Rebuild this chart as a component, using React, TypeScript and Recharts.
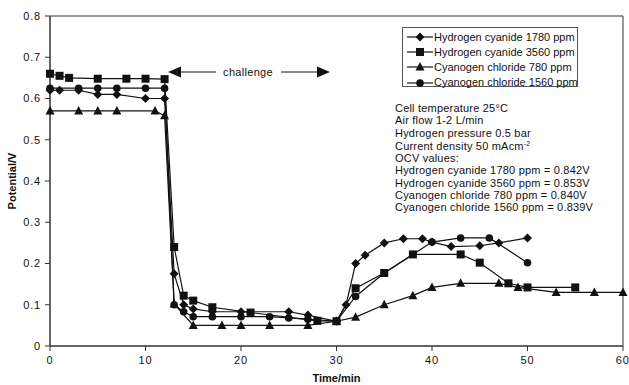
import React from "react";
import { LineChart, Line, XAxis, YAxis, ReferenceArea } from "recharts";

// time (min) and cell potential (V) for each poison run
const hcn1780Time = [0, 1, 3, 5, 7, 10, 12, 13, 14, 15, 17, 20, 25, 27, 30, 31, 32, 33, 35, 37, 39, 40, 42, 45, 47, 50];
const hcn1780Volts = [0.62, 0.62, 0.62, 0.61, 0.61, 0.6, 0.6, 0.175, 0.1, 0.09, 0.083, 0.083, 0.083, 0.075, 0.06, 0.1, 0.2, 0.22, 0.25, 0.26, 0.26, 0.252, 0.241, 0.243, 0.25, 0.262];

const hcn3560Time = [0, 1, 2, 5, 8, 10, 12, 13, 14, 15, 17, 21, 28, 30, 32, 35, 38, 43, 45, 48, 50, 55];
const hcn3560Volts = [0.66, 0.655, 0.65, 0.648, 0.648, 0.648, 0.647, 0.24, 0.122, 0.11, 0.094, 0.081, 0.061, 0.06, 0.14, 0.177, 0.222, 0.222, 0.202, 0.152, 0.142, 0.142];

const cncl780Time = [0, 3, 5, 7, 11, 12, 13, 15, 18, 20, 23, 27, 30, 32, 35, 38, 40, 43, 47, 49, 53, 57, 60];
const cncl780Volts = [0.57, 0.57, 0.57, 0.57, 0.57, 0.558, 0.102, 0.05, 0.05, 0.05, 0.05, 0.05, 0.06, 0.07, 0.1, 0.122, 0.142, 0.152, 0.152, 0.142, 0.13, 0.13, 0.13];

const cncl1560Time = [0, 3, 5, 7, 10, 12, 13, 14, 15, 17, 20, 23, 25, 27, 30, 32, 35, 40, 43, 46, 50];
const cncl1560Volts = [0.625, 0.625, 0.625, 0.625, 0.625, 0.625, 0.1, 0.083, 0.071, 0.071, 0.071, 0.071, 0.068, 0.065, 0.06, 0.12, 0.177, 0.252, 0.262, 0.262, 0.202];

const xTicks = [0, 10, 20, 30, 40, 50, 60];
const yTicks = [0, 0.1, 0.2, 0.3, 0.4, 0.5, 0.6, 0.7, 0.8];

const legendNames = [
  "Hydrogen cyanide 1780 ppm",
  "Hydrogen cyanide 3560 ppm",
  "Cyanogen chloride 780 ppm",
  "Cyanogen chloride 1560 ppm",
];
const markerKinds = ["diamond", "square", "triangle", "circle"];

const ocvValues = ["0.842V", "0.853V", "0.840V", "0.839V"];

const FONT = '"Liberation Sans", Arial, Helvetica, sans-serif';
const INK = "#111";

const toPoints = (t: number[], v: number[]) => t.map((time, i) => ({ time, v: v[i] }));

function Marker({ kind, cx, cy }: { kind: string; cx?: number; cy?: number }) {
  if (cx == null || cy == null) return null;
  if (kind === "diamond")
    return <polygon points={`${cx},${cy - 4.5} ${cx + 4.5},${cy} ${cx},${cy + 4.5} ${cx - 4.5},${cy}`} fill={INK} />;
  if (kind === "square") return <rect x={cx - 4} y={cy - 4} width={8} height={8} fill={INK} />;
  if (kind === "triangle")
    return <polygon points={`${cx},${cy - 5} ${cx + 4.5},${cy + 3.5} ${cx - 4.5},${cy + 3.5}`} fill={INK} />;
  return <circle cx={cx} cy={cy} r={3.8} fill={INK} />;
}

const series = [
  { data: toPoints(hcn1780Time, hcn1780Volts) },
  { data: toPoints(hcn3560Time, hcn3560Volts) },
  { data: toPoints(cncl780Time, cncl780Volts) },
  { data: toPoints(cncl1560Time, cncl1560Volts) },
];

export default function App() {
  const textStyle: React.CSSProperties = {
    fontFamily: FONT,
    fontSize: 11,
    color: INK,
    lineHeight: "12.3px",
    letterSpacing: 0.2,
    whiteSpace: "nowrap",
  };
  return (
    <div style={{ position: "absolute", left: 0, top: 0, width: 629, height: 385, background: "#fff" }}>
      <LineChart width={629} height={385} margin={{ top: 16, right: 6, bottom: 0, left: 0 }}>
        <ReferenceArea x1={0} x2={60} y1={0} y2={0.8} fill="none" stroke="#333" strokeWidth={1} />
        <XAxis
          dataKey="time"
          type="number"
          domain={[0, 60]}
          ticks={xTicks}
          height={39}
          stroke="#333"
          tickSize={5}
          tickMargin={5}
          tick={{ fontSize: 11, fontFamily: FONT, fill: INK, letterSpacing: 0.8 }}
          label={{ value: "Time/min", position: "insideBottom", offset: 3, fontSize: 11, fontWeight: "bold", fontFamily: FONT, fill: INK }}
        />
        <YAxis
          type="number"
          domain={[0, 0.8]}
          ticks={yTicks}
          width={50}
          stroke="#333"
          tickSize={5}
          tickMargin={4}
          tickFormatter={(v) => (v === 0 ? "0" : v.toFixed(1))}
          tick={{ fontSize: 11, fontFamily: FONT, fill: INK, letterSpacing: 0.8 }}
          label={{ value: "Potential/V", angle: -90, position: "center", dx: -13, fontSize: 11, fontWeight: "bold", fontFamily: FONT, fill: INK }}
        />
        {series.map((s, i) => (
          <Line
            key={legendNames[i]}
            data={s.data}
            dataKey="v"
            name={legendNames[i]}
            stroke={INK}
            strokeWidth={1.2}
            isAnimationActive={false}
            dot={(p: any) => <Marker key={`${markerKinds[i]}-${p.index}`} kind={markerKinds[i]} cx={p.cx} cy={p.cy} />}
            activeDot={false}
          />
        ))}
      </LineChart>

      {/* challenge arrow */}
      <svg width={629} height={385} style={{ position: "absolute", left: 0, top: 0, pointerEvents: "none" }}>
        <polygon points="168,72 181,66.5 181,77.5" fill={INK} />
        <line x1={181} y1={72} x2={216} y2={72} stroke={INK} strokeWidth={1} />
        <text x={248} y={76} textAnchor="middle" fontFamily={FONT} fontSize={11} letterSpacing={0.3} fill={INK}>
          challenge
        </text>
        <line x1={281} y1={72} x2={317} y2={72} stroke={INK} strokeWidth={1} />
        <polygon points="330,72 317,66.5 317,77.5" fill={INK} />
      </svg>

      {/* legend */}
      <div
        style={{
          position: "absolute",
          left: 402,
          top: 27,
          width: 176,
          height: 60,
          border: "1px solid #555",
          boxSizing: "border-box",
          background: "#fff",
          paddingTop: 1,
        }}
      >
        {legendNames.map((name, i) => (
          <div key={name} style={{ display: "flex", alignItems: "center", height: 15.3, ...textStyle, letterSpacing: 0 }}>
            <svg width={28} height={12} style={{ marginLeft: 3, flex: "none" }}>
              <line x1={1} y1={6} x2={27} y2={6} stroke={INK} strokeWidth={1.2} />
              <Marker kind={markerKinds[i]} cx={14} cy={6} />
            </svg>
            <span>{name}</span>
          </div>
        ))}
      </div>

      {/* test conditions */}
      <div style={{ position: "absolute", left: 395, top: 102, ...textStyle }}>
        <div>Cell temperature 25°C</div>
        <div>Air flow 1-2 L/min</div>
        <div>Hydrogen pressure 0.5 bar</div>
        <div style={{ marginTop: 1 }}>
          Current density 50 mAcm<sup style={{ fontSize: 7, verticalAlign: "4px", lineHeight: 0 }}>-2</sup>
        </div>
        <div>OCV values:</div>
        {legendNames.map((name, i) => (
          <div key={name}>
            {name} = {ocvValues[i]}
          </div>
        ))}
      </div>
    </div>
  );
}
